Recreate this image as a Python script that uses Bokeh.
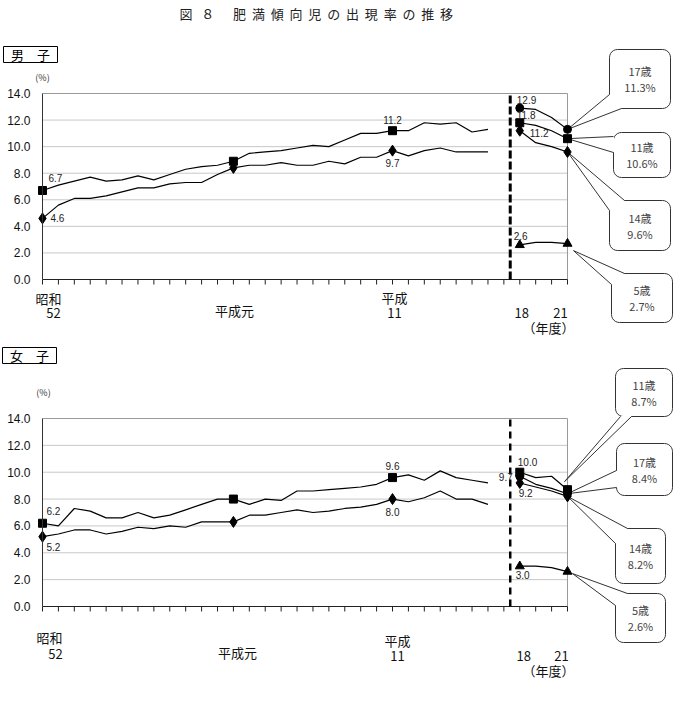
import math
from bokeh.plotting import figure
from bokeh.models import LinearAxis, FixedTicker, NumeralTickFormatter, Range1d
from bokeh.layouts import column
from bokeh.embed import file_html
from bokeh.resources import INLINE
from bokeh.core.properties import value

# ---------------- data ----------------
years_hist = [1977, 1978, 1979, 1980, 1981, 1982, 1983, 1984, 1985, 1986,
              1987, 1988, 1989, 1990, 1991, 1992, 1993, 1994, 1995, 1996,
              1997, 1998, 1999, 2000, 2001, 2002, 2003, 2004, 2005]
years_recent = [2006, 2007, 2008, 2009]

boys_11_hist = [6.7, 7.1, 7.4, 7.7, 7.4, 7.5, 7.8, 7.5, 7.9, 8.3,
                8.5, 8.6, 8.9, 9.5, 9.6, 9.7, 9.9, 10.1, 10.0, 10.5,
                11.0, 11.0, 11.2, 11.2, 11.8, 11.7, 11.8, 11.1, 11.3]
boys_14_hist = [4.6, 5.6, 6.1, 6.1, 6.3, 6.6, 6.9, 6.9, 7.2, 7.3,
                7.3, 7.9, 8.4, 8.6, 8.6, 8.8, 8.6, 8.6, 8.9, 8.7,
                9.2, 9.2, 9.7, 9.3, 9.7, 9.9, 9.6, 9.6, 9.6]
boys_17_recent = [12.9, 12.8, 12.2, 11.3]
boys_11_recent = [11.8, 11.6, 11.2, 10.6]
boys_14_recent = [11.2, 10.3, 10.0, 9.6]
boys_5_recent = [2.6, 2.8, 2.8, 2.7]

girls_11_hist = [6.2, 6.0, 7.3, 7.1, 6.6, 6.6, 7.0, 6.6, 6.8, 7.2,
                 7.6, 8.0, 8.0, 7.6, 8.0, 7.9, 8.6, 8.6, 8.7, 8.8,
                 8.9, 9.1, 9.6, 9.8, 9.4, 10.1, 9.6, 9.4, 9.2]
girls_14_hist = [5.2, 5.4, 5.7, 5.7, 5.4, 5.6, 5.9, 5.8, 6.0, 5.9,
                 6.3, 6.3, 6.3, 6.8, 6.8, 7.0, 7.2, 7.0, 7.1, 7.3,
                 7.4, 7.6, 8.0, 7.8, 8.1, 8.6, 8.0, 8.0, 7.6]
girls_11_recent = [10.0, 9.6, 9.7, 8.7]
girls_17_recent = [9.7, 9.1, 8.8, 8.4]
girls_14_recent = [9.2, 8.9, 8.6, 8.2]
girls_5_recent = [3.0, 3.0, 2.9, 2.6]

hist_marker_years = [1977, 1989, 1999]
recent_marker_years = [2006, 2009]

y_ticks = [0, 2, 4, 6, 8, 10, 12, 14]
x_tick_labels = ["昭和", "52", "平成元", "平成", "11", "18", "21", "（年度）"]
x_tick_label_years = [1977, 1977, 1989, 1999, 1999, 2006, 2009, 2009]
age_names = {"17": "17歳", "11": "11歳", "14": "14歳", "5": "5歳"}
title_text = "図\u00a0\u00a0\u00a0８　\u00a0\u00a0" + "\u00a0\u00a0".join("肥満傾向児の出現率の推移")
panel_names = ["男　子", "女　子"]
unit_label = "(%)"

# ---------------- layout helpers ----------------
W = 676
XL, XR = 42.0, 567.0
N_SLOTS = 33.0
UX = (XR - XL) / N_SLOTS
CJK = value("Noto Sans CJK JP")
ARIAL = value("Liberation Sans")

MARKERS = {"11": ("square", 8), "14": ("diamond", 11), "17": ("circle", 8), "5": ("triangle", 9)}


def pos(year):
    if year <= years_hist[-1]:
        return year - years_hist[0]
    return year - years_hist[0] + 1


def rrect(x0, y0, x1, y1, r, n=6):
    pts = []
    corners = [(x1 - r, y0 + r, -90, 0), (x1 - r, y1 - r, 0, 90),
               (x0 + r, y1 - r, 90, 180), (x0 + r, y0 + r, 180, 270)]
    for cx, cy, a0, a1 in corners:
        for k in range(n + 1):
            a = math.radians(a0 + (a1 - a0) * k / n)
            pts.append((cx + r * math.cos(a), cy + r * math.sin(a)))
    return pts


def make_panel(cfg):
    top, height, y14, y0 = cfg["top"], cfg["height"], cfg["y14"], cfg["y0"]
    uy = (y0 - y14) / 14.0

    def X(px):
        return (px - XL) / UX

    def Y(py):
        return (y0 - py) / uy

    def PX(i):
        return XL + i * UX

    def PY(v):
        return y0 - v * uy

    p = figure(width=W, height=height,
               x_range=Range1d(X(0), X(W)), y_range=Range1d(Y(top + height), Y(top)),
               x_axis_type=None, y_axis_type=None, toolbar_location=None,
               output_backend="svg", min_border=0, outline_line_color=None)
    p.min_border_left = p.min_border_right = p.min_border_top = p.min_border_bottom = 0

    x_last = pos(years_recent[-1])
    # grid lines and frame
    gy = [t for t in y_ticks if 0 < t < 14]
    p.segment(x0=[0] * len(gy), x1=[x_last] * len(gy), y0=gy, y1=gy,
              line_color="#c8c8c8", line_width=1)
    p.segment(x0=[0, x_last], x1=[x_last, x_last], y0=[14, 0], y1=[14, 14],
              line_color="#9a9a9a", line_width=1)

    # y axis
    yax = LinearAxis(ticker=FixedTicker(ticks=y_ticks),
                     formatter=NumeralTickFormatter(format="0.0"),
                     fixed_location=0, bounds=(0, 14))
    yax.major_tick_out = 0
    yax.major_tick_in = 0
    yax.minor_tick_out = 0
    yax.minor_tick_in = 0
    yax.major_label_standoff = 12
    yax.major_label_text_font = "Liberation Sans"
    yax.major_label_text_font_size = "12px"
    yax.major_label_text_color = "#111"
    yax.axis_line_color = "#333"
    p.add_layout(yax, "left")

    # x axis line with a tick at every yearly slot (labels drawn separately)
    xticks = [pos(y) for y in years_hist] + [pos(years_hist[-1]) + 1] + [pos(y) for y in years_recent]
    tick_len = 5.0 / uy
    p.segment(x0=xticks, x1=xticks, y0=[0] * len(xticks), y1=[-tick_len] * len(xticks),
              line_color="#222", line_width=1)
    p.segment(x0=[0], x1=[x_last], y0=[0], y1=[0], line_color="#222", line_width=1)

    # dashed separator
    sep = pos(years_recent[0]) - 0.6
    p.segment(x0=[sep], x1=[sep], y0=[0], y1=[14], line_color="black",
              line_width=cfg["dash_w"], line_dash=cfg["dash"])

    # x tick labels
    offs = cfg["xlab_off"]
    p.text(x=[pos(y) for y in x_tick_label_years], y=[0] * len(x_tick_labels),
           text=x_tick_labels, x_offset=[o[0] for o in offs], y_offset=[o[1] for o in offs],
           text_align="center", text_baseline="middle", text_font=CJK,
           text_font_size="13px", text_color="#111")

    # unit label and panel name
    p.text(x=[X(cfg["pct"][0])], y=[Y(cfg["pct"][1])], text=[unit_label], text_align="center",
           text_baseline="middle", text_font=CJK, text_font_size="9px", text_color="#333")
    bx0, by0, bx1, by1 = cfg["name_box"]
    p.quad(left=[X(bx0)], right=[X(bx1)], top=[Y(by0)], bottom=[Y(by1)],
           fill_color="white", line_color="black", line_width=1)
    p.text(x=[X((bx0 + bx1) / 2)], y=[Y((by0 + by1) / 2)], text=[cfg["name"]], text_align="center",
           text_baseline="middle", text_font=CJK, text_font_size="13px", text_color="black")

    if cfg.get("title"):
        p.text(x=[X(cfg["title_x"])], y=[Y(cfg["title_y"])], text=[title_text], text_align="left",
               text_baseline="middle", text_font=CJK, text_font_size="13px", text_color="#222")

    hist = cfg["hist"]
    recent = cfg["recent"]

    # callouts (drawn before series)
    for age, box, b1, b2, toff in cfg["callouts"]:
        vals = recent[age]
        tip = (PX(pos(years_recent[-1])) + toff[0], PY(vals[-1]) + toff[1])
        pts = rrect(*box, r=8)
        p.patch([X(a) for a, _ in pts], [Y(b) for _, b in pts],
                fill_color="white", line_color="#333", line_width=1)
        cx, cy = (box[0] + box[2]) / 2, (box[1] + box[3]) / 2
        mx, my = (b1[0] + b2[0]) / 2, (b1[1] + b2[1]) / 2
        dx, dy = cx - mx, cy - my
        dl = math.hypot(dx, dy)
        inner = (mx + 5 * dx / dl, my + 5 * dy / dl)
        wedge = [b1, tip, b2, inner]
        p.patch([X(a) for a, _ in wedge], [Y(b) for _, b in wedge],
                fill_color="white", line_color=None)
        p.multi_line(xs=[[X(b1[0]), X(tip[0])], [X(b2[0]), X(tip[0])]],
                     ys=[[Y(b1[1]), Y(tip[1])], [Y(b2[1]), Y(tip[1])]],
                     line_color="#333", line_width=1)
        p.text(x=[X(cx), X(cx)], y=[Y(cy - 8), Y(cy + 8)],
               text=[age_names[age], f"{vals[-1]:.1f}%"], text_align="center",
               text_baseline="middle", text_font=CJK, text_font_size="11px", text_color="#444")

    # series
    for age, vals in hist.items():
        xs = [pos(y) for y in years_hist]
        p.line(xs, vals, line_color="black", line_width=1.2)
        mk, sz = MARKERS[age]
        mx_ = [pos(y) for y in hist_marker_years]
        my_ = [vals[years_hist.index(y)] for y in hist_marker_years]
        p.scatter(mx_, my_, marker=mk, size=sz, fill_color="black", line_color="black")
    for age, vals in recent.items():
        xs = [pos(y) for y in years_recent]
        p.line(xs, vals, line_color="black", line_width=1.2)
        mk, sz = MARKERS[age]
        mx_ = [pos(y) for y in recent_marker_years]
        my_ = [vals[years_recent.index(y)] for y in recent_marker_years]
        p.scatter(mx_, my_, marker=mk, size=sz, fill_color="black", line_color="black")

    # data labels
    for series, years, specs in ((hist, years_hist, cfg["hist_labels"]),
                                 (recent, years_recent, cfg["recent_labels"])):
        for age, yr, dx, dy, align in specs:
            v = series[age][years.index(yr)]
            p.text(x=[pos(yr)], y=[v], text=[f"{v:.1f}"], x_offset=dx, y_offset=dy,
                   text_align=align, text_baseline="middle", text_font=ARIAL,
                   text_font_size="10px", text_color="#222")
    return p


boys_cfg = dict(
    top=0, height=340, y14=93, y0=279, name=panel_names[0],
    name_box=(3, 46, 57, 62), pct=(42, 77), title=True, title_x=179, title_y=13,
    dash="8 3", dash_w=3,
    hist={"11": boys_11_hist, "14": boys_14_hist},
    recent={"17": boys_17_recent, "11": boys_11_recent, "14": boys_14_recent, "5": boys_5_recent},
    hist_labels=[("11", 1977, 6, -12, "left"), ("14", 1977, 8, 0, "left"),
                 ("11", 1999, 0, -11, "center"), ("14", 1999, 0, 12, "center")],
    recent_labels=[("17", 2006, -3, -8, "left"), ("11", 2006, -3, -8, "left"),
                   ("14", 2006, 10, 2, "left"), ("5", 2006, -6, -9, "left")],
    callouts=[("17", (609, 49, 670, 108), (609, 94), (621, 108), (0, 0)),
              ("11", (613, 132, 670, 177), (613, 136), (613, 152), (0, 0)),
              ("14", (609, 200, 670, 250), (609, 210), (624, 200), (0, 0)),
              ("5", (611, 273, 672, 322), (611, 284), (624, 273), (6, 7))],
    xlab_off=[(6, 19), (11, 33), (1, 31), (2, 18), (2, 33), (2, 33), (-7, 33), (-19, 48)],
)

G = 340  # page offset of second panel
girls_cfg = dict(
    top=G, height=702 - G, y14=418, y0=606, name=panel_names[1],
    name_box=(2, 347, 56, 363), pct=(43, 392), title=False,
    dash="7 5", dash_w=2.5,
    hist={"11": girls_11_hist, "14": girls_14_hist},
    recent={"11": girls_11_recent, "17": girls_17_recent, "14": girls_14_recent, "5": girls_5_recent},
    hist_labels=[("11", 1977, 4, -12, "left"), ("14", 1977, 4, 10, "left"),
                 ("11", 1999, 0, -12, "center"), ("14", 1999, 0, 13, "center")],
    recent_labels=[("11", 2006, -2, -10, "left"), ("17", 2006, -7, 1, "right"),
                   ("14", 2006, -1, 10, "left"), ("5", 2006, -4, 9, "left")],
    callouts=[("11", (615, 368, 672, 416), (620, 416), (631, 416), (-3, -8)),
              ("17", (616, 443, 672, 495), (616, 470), (616, 487), (0, 0)),
              ("14", (615, 528, 665, 583), (615, 543), (627, 528), (0, 0)),
              ("5", (615, 593, 665, 642), (615, 605), (627, 593), (5, 2))],
    xlab_off=[(7, 31), (13, 47), (4, 46), (5, 34), (5, 49), (4, 49), (-6, 49), (-19, 64)],
)


def shifted(cfg):
    # express the second panel's page coordinates in its own canvas
    off = cfg["top"]
    c = dict(cfg)
    c["top"] = 0
    c["y14"] = cfg["y14"] - off
    c["y0"] = cfg["y0"] - off
    c["name_box"] = (cfg["name_box"][0], cfg["name_box"][1] - off, cfg["name_box"][2], cfg["name_box"][3] - off)
    c["pct"] = (cfg["pct"][0], cfg["pct"][1] - off)
    c["callouts"] = [(a, (b[0], b[1] - off, b[2], b[3] - off), (p1[0], p1[1] - off), (p2[0], p2[1] - off), t)
                     for a, b, p1, p2, t in cfg["callouts"]]
    return c


p1 = make_panel(boys_cfg)
p2 = make_panel(shifted(girls_cfg))
layout = column(p1, p2, spacing=0)
open("out.html", "w").write(file_html(layout, INLINE))
